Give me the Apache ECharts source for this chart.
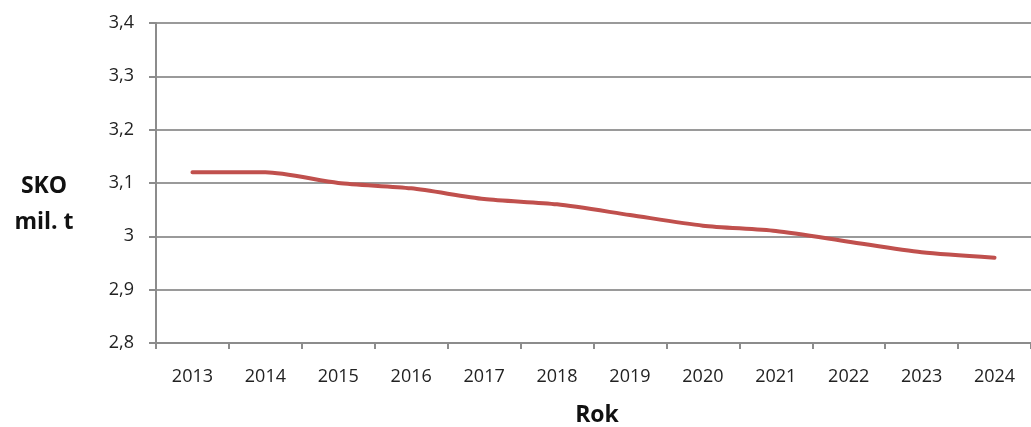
<!DOCTYPE html>
<html>
<head>
<meta charset="utf-8">
<script src="https://cdn.jsdelivr.net/npm/echarts@6/dist/echarts.min.js"></script>
<style>
  html, body { margin: 0; padding: 0; background: #fff; }
  #chart { width: 1031px; height: 427px; }
</style>
</head>
<body>
<div id="chart"></div>
<script>
// Years on the horizontal axis
const years = ['2013', '2014', '2015', '2016', '2017', '2018', '2019', '2020', '2021', '2022', '2023', '2024'];
// SKO in millions of tonnes
const skoValues = [3.12, 3.12, 3.10, 3.09, 3.07, 3.06, 3.04, 3.02, 3.01, 2.99, 2.97, 2.96];
// Value axis range
const yMin = 2.8;
const yMax = 3.4;
const yStep = 0.1;

const font = '"Open Sans", "DejaVu Sans", sans-serif';
const chart = echarts.init(document.getElementById('chart'), null, { renderer: 'canvas' });

chart.setOption({
  animation: false,
  backgroundColor: '#ffffff',
  grid: { left: 156, right: -6, top: 23, bottom: 84, containLabel: false },
  xAxis: {
    type: 'category',
    data: years,
    boundaryGap: true,
    axisLine: { show: true, lineStyle: { color: '#8c8c8c', width: 2 } },
    axisTick: { show: true, length: 6, lineStyle: { color: '#8c8c8c', width: 2 } },
    axisLabel: { color: '#222', fontSize: 18, fontFamily: font, margin: 25 },
    splitLine: { show: false }
  },
  yAxis: {
    type: 'value',
    min: yMin,
    max: yMax,
    interval: yStep,
    axisLine: { show: true, lineStyle: { color: '#8c8c8c', width: 2 } },
    axisTick: { show: true, length: 7, lineStyle: { color: '#8c8c8c', width: 2 } },
    axisLabel: {
      color: '#222', fontSize: 18, fontFamily: font, margin: 22,
      formatter: v => String(Math.round(v * 10) / 10).replace('.', ',')
    },
    splitLine: { show: true, lineStyle: { color: '#9a9a9a', width: 2 } }
  },
  graphic: [
    {
      type: 'text', x: 44, y: 186,
      style: { text: 'SKO', fill: '#111', font: 'bold 23px ' + font, textAlign: 'center', textVerticalAlign: 'middle' }
    },
    {
      type: 'text', x: 44, y: 222,
      style: { text: 'mil. t', fill: '#111', font: 'bold 23px ' + font, textAlign: 'center', textVerticalAlign: 'middle' }
    },
    {
      type: 'text', x: 597, y: 415,
      style: { text: 'Rok', fill: '#111', font: 'bold 23px ' + font, textAlign: 'center', textVerticalAlign: 'middle' }
    }
  ],
  series: [{
    type: 'line',
    data: skoValues,
    smooth: 0.25,
    symbol: 'none',
    lineStyle: { color: '#c0504d', width: 4, cap: 'round', join: 'round' }
  }]
});
</script>
</body>
</html>
